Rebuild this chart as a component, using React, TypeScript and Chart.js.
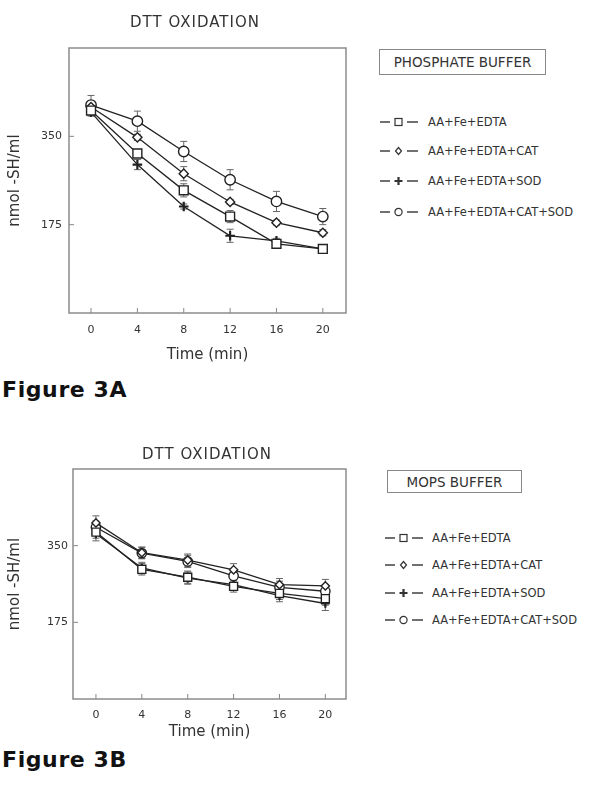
import React, { useEffect, useRef } from "react";
import { Chart, registerables } from "chart.js";

Chart.register(...registerables);

// ---------- data ----------
const TIMES = [0, 4, 8, 12, 16, 20];
const X_TICKS = [0, 4, 8, 12, 16, 20];
const Y_TICKS = [175, 350];
const SERIES_LABELS = ["AA+Fe+EDTA", "AA+Fe+EDTA+CAT", "AA+Fe+EDTA+SOD", "AA+Fe+EDTA+CAT+SOD"];
const SERIES_MARKERS = ["square", "diamond", "plus", "circle"];
const CHART_TITLE = "DTT OXIDATION";
const X_TITLE = "Time (min)";
const Y_TITLE = "nmol -SH/ml";

// Figure 3A – phosphate buffer
const A_EDTA = [401, 316, 243, 191, 137, 127];
const A_CAT = [408, 348, 276, 220, 179, 159];
const A_SOD = [398, 294, 211, 153, 143, 127];
const A_CATSOD = [412, 380, 320, 264, 221, 191];
const A_EDTA_ERR = [8, 6, 13, 12, 5, 6];
const A_CAT_ERR = [8, 6, 14, 5, 5, 6];
const A_SOD_ERR = [8, 10, 5, 13, 5, 6];
const A_CATSOD_ERR = [19, 20, 20, 20, 20, 16];

// Figure 3B – MOPS buffer
const B_EDTA = [381, 296, 278, 257, 241, 229];
const B_CAT = [402, 334, 317, 295, 261, 258];
const B_SOD = [377, 299, 276, 261, 236, 218];
const B_CATSOD = [392, 333, 314, 281, 255, 246];
const B_EDTA_ERR = [14, 13, 14, 13, 14, 15];
const B_CAT_ERR = [16, 13, 14, 14, 14, 15];
const B_SOD_ERR = [16, 13, 14, 13, 14, 16];
const B_CATSOD_ERR = [14, 13, 14, 14, 14, 15];

const FONT = "'DejaVu Sans', sans-serif";
const INK = "#222";
const TEXT = "#333";

// ---------- plugins ----------
const framePlugin = {
  id: "frameTicks",
  beforeDatasetsDraw(chart: any) {
    const { ctx, chartArea: a, scales } = chart;
    ctx.save();
    ctx.strokeStyle = "#8c8c8c";
    ctx.lineWidth = 1.5;
    ctx.strokeRect(a.left, a.top, a.right - a.left, a.bottom - a.top);
    ctx.lineWidth = 1;
    ctx.strokeStyle = "#888";
    ctx.beginPath();
    scales.x.ticks.forEach((t: any) => {
      const px = scales.x.getPixelForValue(t.value);
      ctx.moveTo(px, a.bottom);
      ctx.lineTo(px, a.bottom - 5);
    });
    scales.y.ticks.forEach((t: any) => {
      const py = scales.y.getPixelForValue(t.value);
      ctx.moveTo(a.left, py);
      ctx.lineTo(a.left + 5, py);
    });
    ctx.stroke();
    ctx.restore();
  },
};

const errorBarPlugin = {
  id: "errorBars",
  beforeDatasetsDraw(chart: any) {
    const { ctx, scales } = chart;
    ctx.save();
    ctx.strokeStyle = "#666";
    ctx.lineWidth = 1;
    chart.data.datasets.forEach((ds: any) => {
      const errs: number[] = ds.errors;
      if (!errs) return;
      ds.data.forEach((pt: any, i: number) => {
        const px = scales.x.getPixelForValue(pt.x);
        const top = scales.y.getPixelForValue(pt.y + errs[i]);
        const bot = scales.y.getPixelForValue(pt.y - errs[i]);
        ctx.beginPath();
        ctx.moveTo(px, top);
        ctx.lineTo(px, bot);
        ctx.moveTo(px - 3.5, top);
        ctx.lineTo(px + 3.5, top);
        ctx.moveTo(px - 3.5, bot);
        ctx.lineTo(px + 3.5, bot);
        ctx.stroke();
      });
    });
    ctx.restore();
  },
};

const placedTitlePlugin = {
  id: "placedTitle",
  afterDraw(chart: any, _args: any, opts: any) {
    if (!opts || !opts.text) return;
    const { ctx } = chart;
    ctx.save();
    ctx.font = `15px ${FONT}`;
    try {
      (ctx as any).letterSpacing = "1px";
    } catch (e) {}
    ctx.fillStyle = TEXT;
    ctx.textAlign = "center";
    ctx.textBaseline = "middle";
    ctx.fillText(opts.text, opts.x, opts.y);
    ctx.restore();
  },
};

// ---------- config ----------
type Geo = {
  xMin: number;
  xMax: number;
  yAxisWidth: number;
  xAxisHeight: number;
  topPad: number;
  titleX: number;
  titleY: number;
  xTitlePadBottom: number;
  tickPadX: number;
  tickPadY: number;
  rightPad: number;
  scale: number;
};

const STYLE_MAP: Record<string, string> = {
  square: "rect",
  diamond: "rectRot",
  plus: "cross",
  circle: "circle",
};

function makeDataset(i: number, vals: number[], errs: number[], s: number) {
  const kind = SERIES_MARKERS[i];
  const radius = kind === "square" ? 6.3 * s : kind === "diamond" ? 4.6 * s : kind === "plus" ? 4.8 * s : 5.2 * s;
  return {
    label: SERIES_LABELS[i],
    data: TIMES.map((t, k) => ({ x: t, y: vals[k] })),
    errors: errs,
    borderColor: INK,
    borderWidth: 1.3,
    pointStyle: STYLE_MAP[kind],
    pointRadius: radius,
    pointBorderWidth: kind === "plus" ? 2.2 : 1.4,
    pointBackgroundColor: "#fff",
    pointBorderColor: INK,
    tension: 0,
  };
}

function makeConfig(series: number[][], errs: number[][], g: Geo): any {
  return {
    type: "line",
    data: {
      datasets: series.map((v, i) => makeDataset(i, v, errs[i], g.scale)),
    },
    options: {
      animation: false,
      responsive: false,
      maintainAspectRatio: false,
      layout: { padding: { left: 0, right: g.rightPad, top: g.topPad, bottom: 0 } },
      plugins: {
        legend: { display: false },
        tooltip: { enabled: false },
        title: { display: false },
        placedTitle: { text: CHART_TITLE, x: g.titleX, y: g.titleY },
      },
      scales: {
        x: {
          type: "linear",
          min: g.xMin,
          max: g.xMax,
          grid: { display: false, drawTicks: false },
          border: { display: false },
          afterBuildTicks: (sc: any) => {
            sc.ticks = X_TICKS.map((v) => ({ value: v }));
          },
          afterFit: (sc: any) => {
            sc.height = g.xAxisHeight;
          },
          ticks: {
            color: TEXT,
            padding: g.tickPadX,
            font: { family: FONT, size: 11 },
            maxRotation: 0,
            callback: (v: any) => String(v),
          },
          title: {
            display: true,
            text: X_TITLE,
            color: TEXT,
            font: { family: FONT, size: 15 },
            padding: { top: 0, bottom: g.xTitlePadBottom },
          },
        },
        y: {
          type: "linear",
          min: 0,
          max: 525,
          grid: { display: false, drawTicks: false },
          border: { display: false },
          afterBuildTicks: (sc: any) => {
            sc.ticks = Y_TICKS.map((v) => ({ value: v }));
          },
          afterFit: (sc: any) => {
            sc.width = g.yAxisWidth;
          },
          ticks: {
            color: TEXT,
            padding: g.tickPadY,
            font: { family: FONT, size: 11 },
            callback: (v: any) => String(v),
          },
          title: {
            display: true,
            text: Y_TITLE,
            color: TEXT,
            font: { family: FONT, size: 15 },
            padding: { top: 6, bottom: 0 },
          },
        },
      },
    },
    plugins: [framePlugin, errorBarPlugin, placedTitlePlugin],
  };
}

function ChartBox(props: { left: number; top: number; width: number; height: number; config: any }) {
  const ref = useRef<HTMLCanvasElement | null>(null);
  useEffect(() => {
    if (!ref.current) return;
    const chart = new Chart(ref.current, props.config);
    return () => chart.destroy();
  }, []);
  return (
    <div style={{ position: "absolute", left: props.left, top: props.top, width: props.width, height: props.height }}>
      <canvas ref={ref} width={props.width} height={props.height} style={{ width: props.width, height: props.height, display: "block" }} />
    </div>
  );
}

function Marker({ kind }: { kind: string }) {
  const c = "#333";
  return (
    <svg width={38} height={14} style={{ position: "absolute", left: 0, top: 0 }}>
      <line x1={0} y1={7} x2={10} y2={7} stroke={c} strokeWidth={1.4} />
      <line x1={27} y1={7} x2={38} y2={7} stroke={c} strokeWidth={1.4} />
      {kind === "square" && <rect x={15} y={3.5} width={7} height={7} fill="none" stroke={c} strokeWidth={1.2} />}
      {kind === "diamond" && <polygon points="18.5,3.5 21.5,7 18.5,10.5 15.5,7" fill="none" stroke={c} strokeWidth={1.2} />}
      {kind === "plus" && <path d="M14.5 7 H22.5 M18.5 3 V11" stroke={c} strokeWidth={2.2} fill="none" />}
      {kind === "circle" && <circle cx={18.5} cy={7} r={3.6} fill="none" stroke={c} strokeWidth={1.2} />}
    </svg>
  );
}

function Legend(props: {
  buffer: string;
  box: { left: number; top: number; width: number; height: number; size: number };
  rows: number[];
  markerLeft: number;
  textLeft: number;
}) {
  const { box } = props;
  return (
    <>
      <div
        style={{
          position: "absolute",
          left: box.left,
          top: box.top,
          width: box.width,
          height: box.height,
          border: "1px solid #888",
          boxSizing: "border-box",
          display: "flex",
          alignItems: "center",
          justifyContent: "center",
          fontFamily: FONT,
          fontSize: box.size,
          color: TEXT,
          whiteSpace: "nowrap",
        }}
      >
        {props.buffer}
      </div>
      {SERIES_LABELS.map((lab, i) => (
        <React.Fragment key={lab}>
          <div style={{ position: "absolute", left: props.markerLeft, top: props.rows[i] - 7, width: 38, height: 14 }}>
            <Marker kind={SERIES_MARKERS[i]} />
          </div>
          <div
            style={{
              position: "absolute",
              left: props.textLeft,
              top: props.rows[i] - 7,
              height: 14,
              lineHeight: "14px",
              fontFamily: FONT,
              fontSize: 11.5,
              color: TEXT,
              whiteSpace: "nowrap",
            }}
          >
            {lab}
          </div>
        </React.Fragment>
      ))}
    </>
  );
}

const figLabelStyle: React.CSSProperties = {
  position: "absolute",
  left: 2,
  fontFamily: FONT,
  fontWeight: "bold",
  fontSize: 22,
  lineHeight: "22px",
  letterSpacing: 0.6,
  color: "#111",
  whiteSpace: "nowrap",
};

export default function App() {
  const cfgA = makeConfig(
    [A_EDTA, A_CAT, A_SOD, A_CATSOD],
    [A_EDTA_ERR, A_CAT_ERR, A_SOD_ERR, A_CATSOD_ERR],
    {
      xMin: -1.9,
      xMax: 22,
      yAxisWidth: 69,
      xAxisHeight: 57,
      topPad: 48,
      titleX: 195,
      titleY: 23,
      xTitlePadBottom: 6,
      tickPadX: 11,
      tickPadY: 7,
      rightPad: 14,
      scale: 1,
    }
  );
  const cfgB = makeConfig(
    [B_EDTA, B_CAT, B_SOD, B_CATSOD],
    [B_EDTA_ERR, B_CAT_ERR, B_SOD_ERR, B_CATSOD_ERR],
    {
      xMin: -2,
      xMax: 21.8,
      yAxisWidth: 73,
      xAxisHeight: 43,
      topPad: 37,
      titleX: 207,
      titleY: 23,
      xTitlePadBottom: 1,
      tickPadX: 10,
      tickPadY: 5,
      rightPad: 14,
      scale: 0.9,
    }
  );
  return (
    <div style={{ position: "fixed", left: 0, top: 0, width: 591, height: 785, background: "#fff", overflow: "hidden" }}>
      <ChartBox left={0} top={0} width={360} height={370} config={cfgA} />
      <Legend
        buffer="PHOSPHATE BUFFER"
        box={{ left: 379, top: 49, width: 167, height: 26, size: 13.5 }}
        rows={[122, 151, 181, 212]}
        markerLeft={380}
        textLeft={428}
      />
      <div style={{ ...figLabelStyle, top: 379 }}>Figure 3A</div>

      <ChartBox left={0} top={432} width={360} height={310} config={cfgB} />
      <Legend
        buffer="MOPS BUFFER"
        box={{ left: 387, top: 470, width: 135, height: 23, size: 13.5 }}
        rows={[538, 565, 593, 620]}
        markerLeft={385}
        textLeft={432}
      />
      <div style={{ ...figLabelStyle, top: 749 }}>Figure 3B</div>
    </div>
  );
}
